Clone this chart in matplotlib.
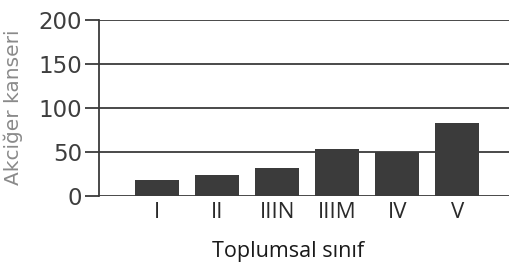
import matplotlib
matplotlib.use("Agg")
import matplotlib.pyplot as plt

categories = ["I", "II", "IIIN", "IIIM", "IV", "V"]
values = [18, 24, 32, 53, 50, 83]
yticks = [0, 50, 100, 150, 200]

W, H = 510, 269
fig = plt.figure(figsize=(W / 100, H / 100), dpi=100)
ax = fig.add_axes([99 / W, 1 - 196 / H, 1 - 99 / W, 176 / H])
x = list(range(len(categories)))
ax.bar(x, values, width=0.73, color="#3b3b3b", zorder=3)
for yv in yticks:
    ax.axhline(yv, color="#3a3a3a", lw=1.3, zorder=1)
ax.set_xlim(-0.97, 5.88)
ax.set_ylim(0, 200)
for s in ["top", "right", "bottom"]:
    ax.spines[s].set_visible(False)
ax.spines["left"].set_color("#3a3a3a")
ax.spines["left"].set_linewidth(1.3)
ax.set_yticks(yticks)
ax.set_yticklabels([str(v) for v in yticks], fontsize=16.5, color="#3e3e3e",
                   family="DejaVu Sans")
ax.tick_params(axis="y", length=10, width=1.3, color="#3a3a3a", pad=2)
ax.set_xticks(x)
ax.set_xticklabels(categories, fontsize=16, color="#2a2a2a", family="Open Sans")
ax.tick_params(axis="x", length=0, pad=4)
fig.text(13.5 / W, 1 - 107 / H, "Akciğer kanseri", rotation=90, ha="center", va="center",
         fontsize=14.5, color="#8a8a8a", family="DejaVu Sans")
fig.text(288 / W, 1 - 251 / H, "Toplumsal sınıf", ha="center", va="center",
         fontsize=15.5, color="#1a1a1a", family="Open Sans")
fig.savefig("out.png", dpi=100, facecolor="white")
